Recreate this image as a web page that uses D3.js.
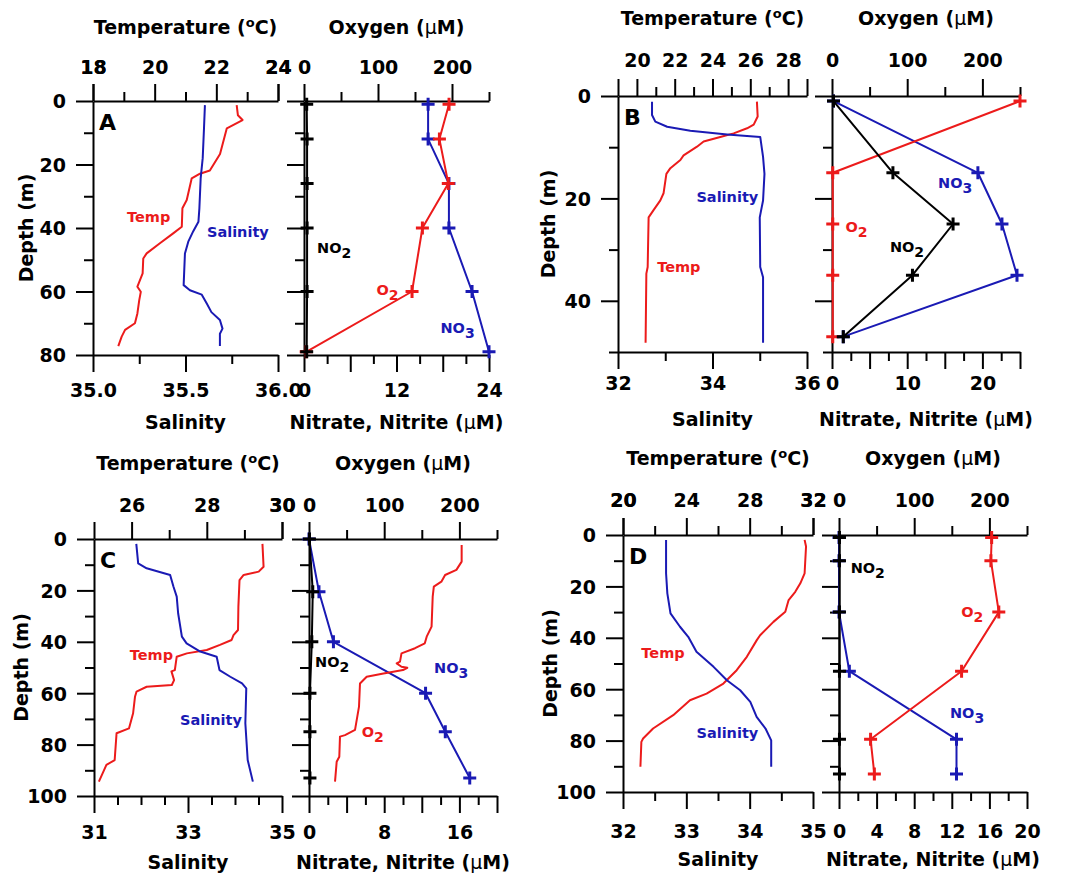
<!DOCTYPE html>
<html><head><meta charset="utf-8">
<script src="https://cdn.jsdelivr.net/npm/d3@7"></script>
<style>body{margin:0;background:#fff}</style>
</head><body>
<svg id="c" width="1065" height="878"></svg>
<script>
// ---------------- DATA ----------------
// Panel A
const aTempDepth = [1.3,4.5,6,8.6,16.7,21.9,22.9,24.4,31.2,33.8,39.6,41.7,44.8,48,49.6,54.3,58.5,60.1,62.7,66.9,70,72.1,74.2,77.2];
const aTemp      = [22.66,22.7,22.85,22.34,22.12,21.79,21.47,21.2,21.04,20.9,20.88,20.6,20.17,19.74,19.63,19.61,19.44,19.55,19.5,19.44,19.36,19.04,18.93,18.82];
const aSalDepth  = [1.3,8.6,18,24.4,33.8,38,41,44.3,48,58,59.6,61,63.8,66.5,69,71.7,73.3,77.2];
const aSal       = [35.605,35.6,35.593,35.582,35.575,35.57,35.542,35.515,35.497,35.49,35.524,35.588,35.615,35.64,35.686,35.7,35.686,35.686];
const aBottleDepth = [1,12,26,40,60,79];
const aO2  = [196,183,195,160,146,3];
const aNO3 = [16.1,16.1,18.8,18.8,21.8,24.0];
const aNO2 = [0.35,0.4,0.4,0.4,0.4,0.35];
// Panel B
const bTempDepth = [1.1,4.0,5.6,6.3,7.3,8,8.9,9.9,11.6,12.5,14.1,15.2,19,20.4,22.3,23.7,33.4,34.7,48.2];
const bTemp      = [26.35,26.39,26.18,25.83,25.12,24.41,23.53,23.18,22.47,22.3,21.77,21.56,21.41,21.24,20.88,20.62,20.57,20.5,20.46];
const bSalDepth  = [1.1,3.7,5,6,6.8,7.5,8,11.9,15.2,20.4,23.7,33.4,35.4,48.2];
const bSal       = [32.72,32.72,32.79,33.04,33.53,34.31,35.01,35.07,35.1,35.07,35.0,35.01,35.07,35.07];
const bBottleDepth = [1,15,25,35,47];
const bO2  = [250,1,1,1,1];
const bNO3 = [0.2,19.4,22.6,24.6,1.5];
const bNO2 = [0.2,8.1,16.1,10.7,1.5];
// Panel C
const cTempDepth = [1.9,10.8,12.7,14,16,26.3,35.4,37.4,39.3,41.2,43.2,44.5,45.8,51,51.5,54.9,56.8,57.5,59.4,61.4,67.8,73.7,75.6,86,87.9,94.4];
const cTemp      = [29.48,29.51,29.38,28.98,28.87,28.84,28.83,28.71,28.66,28.35,28.0,27.47,27.2,27.15,27.06,27.13,27.07,26.4,26.13,26.09,26.04,25.93,25.6,25.55,25.33,25.13];
const cSalDepth  = [1.9,9.5,11.4,14,18.5,22.4,28.9,38,40.6,43.8,45.8,51,53.6,56.2,58.1,71.7,86,94.4];
const cSal       = [31.9,31.94,32.12,32.62,32.69,32.76,32.79,32.87,32.97,33.26,33.61,33.67,33.9,34.15,34.24,34.22,34.27,34.38];
const cO2Depth   = [2.3,8.8,12,14,16.6,18.5,22.4,34.1,38,40.6,42.5,44.5,47.7,48.4,49.7,50.1,51,52.3,53.6,56.2,65.2,74.3,76.3,76.9,84.7,86.7,94.4];
const cO2        = [203,203,196,181,176,166,164.5,163,156.5,154,141,123,121,116.6,123,130.7,125,99,76.7,67.8,66.5,61.2,47.9,41.2,40.3,36.8,34.6];
const cBottleDepth = [0,20.5,40,60,75,93];
const cNO3 = [0,1.06,2.6,12.4,14.5,17.1];
const cNO2 = [0.05,0.4,0.3,0.1,0.1,0.1];
// Panel D
const dTempDepth = [1.9,4.5,14.9,18.8,22.1,25.3,29.9,33.8,39,40.9,47.4,52.6,57.8,61.7,64.3,70.1,75.3,79.2,80.5,90.2];
const dTemp      = [31.47,31.56,31.47,31.2,30.88,30.46,30.25,29.5,28.66,28.45,27.82,27.18,26.34,25.28,24.23,23.17,21.9,21.27,21.16,21.1];
const dSalDepth  = [1.9,14.9,22.7,30.5,35.7,39.6,45.4,51.3,56.5,60.4,64.9,70.8,75.3,79.9,90.2];
const dSal       = [32.68,32.68,32.7,32.75,32.9,33.03,33.16,33.43,33.64,33.85,34.01,34.11,34.25,34.34,34.34];
const dBottleDepth = [1,10,30,53,79.5,93];
const dO2  = [203,202,212.5,163,42,47];
const dNO3 = [0,0,0,1.1,12.5,12.5];
const dNO2 = [0.05,0.05,0.05,0.05,0.05,0.05];

// Tick values
const aDepthTicks = [0,10,20,30,40,50,60,70,80], aDepthLabels=[0,20,40,60,80];
const bDepthTicks = [0,10,20,30,40,50], bDepthLabels=[0,20,40];
const cdDepthTicks = [0,10,20,30,40,50,60,70,80,90,100], cdDepthLabels=[0,20,40,60,80,100];
const oxyTicks = [0,50,100,150,200,250], oxyLabels=[0,100,200];

// Annotation labels (data coordinates: x on salinity / nitrate axis, y = depth)
const aLabels = [["Temp","sal",35.184,36.5,"red"],["Salinity","sal",35.616,41.3,"blue"],
                 ["NO|2","nit",1.7,46.3,"black"],["O|2","nit",9.4,59.5,"red"],["NO|3","nit",17.7,71.5,"blue"]];
const bLabels = [["Salinity","sal",33.66,19.75,"blue"],["Temp","sal",32.83,33.4,"red"],
                 ["NO|3","nit",14.1,17,"blue"],["O|2","nit",1.8,25.6,"red"],["NO|2","nit",7.7,29.5,"black"]];
const cLabels = [["Temp","sal",31.76,45.1,"red"],["Salinity","sal",32.83,70.4,"blue"],
                 ["NO|2","nit",0.64,47.7,"black"],["NO|3","nit",13.3,50.2,"blue"],["O|2","nit",5.6,75,"red"]];
const dLabels = [["Temp","sal",32.29,46,"red"],["Salinity","sal",33.16,77.1,"blue"],
                 ["NO|2","nit",1.24,12.9,"black"],["O|2","nit",13.0,29.9,"red"],["NO|3","nit",11.8,69.3,"blue"]];

// ---------------- STYLE / LAYOUT ----------------
const COL = {red:"#ec1b1b", blue:"#1a1ab4", black:"#000"};
const FONT = "DejaVu Sans";
const svg = d3.select("#c").style("font-family", FONT);

const panels = [
 {letter:"A", lx:[93,278], rx:[304,489], y:[101,355], depthMax:80, dTicks:aDepthTicks, dLabels:aDepthLabels,
  tDom:[18,24], tTicks:[18,19,20,21,22,23,24], tLab:[18,20,22,24], tFmt:d3.format("d"),
  sDom:[35,36], sTicks:[35,35.25,35.5,35.75,36], sLab:[35,35.5,36], sFmt:d3.format(".1f"),
  nDom:[0,24], nTicks:d3.range(0,25,3), nMajor:[0,6,12,18,24], nLab:[0,12,24],
  topLab:-34, topTitle:-74, botLab:35, botTitle:67, depthTitle:-67,
  tempD:aTempDepth, temp:aTemp, salD:aSalDepth, sal:aSal,
  bD:aBottleDepth, o2:aO2, no3:aNO3, no2:aNO2, o2D:null, o2c:null, labels:aLabels},
 {letter:"B", lx:[618,807], rx:[832,1020], y:[96,352], depthMax:50, dTicks:bDepthTicks, dLabels:bDepthLabels,
  tDom:[19,29], tTicks:d3.range(19,30,1), tLab:[20,22,24,26,28], tFmt:d3.format("d"),
  sDom:[32,36], sTicks:[32,33,34,35,36], sLab:[32,34,36], sFmt:d3.format("d"),
  nDom:[0,25], nTicks:d3.range(0,25.1,2.5), nMajor:[0,5,10,15,20,25], nLab:[0,10,20],
  topLab:-36, topTitle:-78, botLab:31, botTitle:67, depthTitle:-70,
  tempD:bTempDepth, temp:bTemp, salD:bSalDepth, sal:bSal,
  bD:bBottleDepth, o2:bO2, no3:bNO3, no2:bNO2, o2D:null, o2c:null, labels:bLabels},
 {letter:"C", lx:[94,282], rx:[309,497], y:[539,796], depthMax:100, dTicks:cdDepthTicks, dLabels:cdDepthLabels,
  tDom:[25,30], tTicks:[25,26,27,28,29,30], tLab:[26,28,30], tFmt:d3.format("d"),
  sDom:[31,35], sTicks:d3.range(31,35.1,0.5), sLab:[31,33,35], sFmt:d3.format("d"),
  nDom:[0,20], nTicks:d3.range(0,21,2), nMajor:[0,4,8,12,16,20], nLab:[0,8,16],
  topLab:-34, topTitle:-76, botLab:36, botTitle:66, depthTitle:-73,
  tempD:cTempDepth, temp:cTemp, salD:cSalDepth, sal:cSal,
  bD:cBottleDepth, o2:null, no3:cNO3, no2:cNO2, o2D:cO2Depth, o2c:cO2, labels:cLabels},
 {letter:"D", lx:[623,813], rx:[839,1027], y:[535,792], depthMax:100, dTicks:cdDepthTicks, dLabels:cdDepthLabels,
  tDom:[20,32], tTicks:d3.range(20,33,2), tLab:[20,24,28,32], tFmt:d3.format("d"),
  sDom:[32,35], sTicks:d3.range(32,35.1,0.5), sLab:[32,33,34,35], sFmt:d3.format("d"),
  nDom:[0,20], nTicks:d3.range(0,21,2), nMajor:[0,4,8,12,16,20], nLab:[0,4,8,12,16,20],
  topLab:-35, topTitle:-77, botLab:39, botTitle:67, depthTitle:-73,
  tempD:dTempDepth, temp:dTemp, salD:dSalDepth, sal:dSal,
  bD:dBottleDepth, o2:dO2, no3:dNO3, no2:dNO2, o2D:null, o2c:null, labels:dLabels},
];

const near = (arr, v) => arr.some(a => Math.abs(a - v) < 1e-9);

function hAxis(g, scale, yPos, top, ticks, majors, labels, fmt, labOff) {
  const mk = top ? d3.axisTop : d3.axisBottom;
  const minors = ticks.filter(t => !near(majors, t));
  const gm = g.append("g").attr("transform", `translate(0,${yPos})`)
    .call(mk(scale).tickValues(minors).tickSize(9).tickSizeOuter(0).tickFormat(""));
  gm.select(".domain").remove();
  const gM = g.append("g").attr("transform", `translate(0,${yPos})`)
    .call(mk(scale).tickValues(majors).tickSize(17).tickSizeOuter(0)
      .tickFormat(d => near(labels, d) ? fmt(d) : ""));
  g.selectAll("path, line").attr("stroke", "#000").attr("stroke-width", 2);
  gM.selectAll("text").attr("y", labOff).attr("dy", "0.36em")
    .attr("font-size", 19).attr("font-weight", "bold").attr("fill", "#000").attr("font-family", FONT);
}

function vAxis(g, scale, xPos, ticks, labels, showLabels) {
  const minors = ticks.filter(t => !near(labels, t));
  const gm = g.append("g").attr("transform", `translate(${xPos},0)`)
    .call(d3.axisLeft(scale).tickValues(minors).tickSize(9).tickSizeOuter(0).tickFormat(""));
  gm.select(".domain").remove();
  const gM = g.append("g").attr("transform", `translate(${xPos},0)`)
    .call(d3.axisLeft(scale).tickValues(labels).tickSize(17).tickSizeOuter(0)
      .tickFormat(d => showLabels ? d3.format("d")(d) : ""));
  g.selectAll("path, line").attr("stroke", "#000").attr("stroke-width", 2);
  gM.selectAll("text").attr("x", -27).attr("dy", "0.36em")
    .attr("font-size", 19).attr("font-weight", "bold").attr("fill", "#000").attr("font-family", FONT);
}

function richText(g, x, y, str, color, size, anchor) {
  const parts = str.split("|");
  const t = g.append("text").attr("x", x).attr("y", y).attr("dy", "0.36em")
    .attr("fill", color).attr("font-size", size).attr("font-weight", "bold")
    .attr("text-anchor", anchor || "start");
  t.append("tspan").text(parts[0]);
  if (parts.length > 1) t.append("tspan").attr("dy", size*0.35).attr("font-size", size*0.97).text(parts[1]);
  return t;
}

function title(g, x, y, kind) {
  const t = g.append("text").attr("x", x).attr("y", y).attr("dy", "0.36em")
    .attr("text-anchor", "middle").attr("font-size", 19).attr("font-weight", "bold").attr("fill", "#000");
  if (kind === "temp") {
    t.append("tspan").text("Temperature (");
    t.append("tspan").attr("dy", -7).attr("font-size", 13).text("o");
    t.append("tspan").attr("dy", 7).text("C)");
  } else if (kind === "oxy") {
    t.append("tspan").text("Oxygen (");
    t.append("tspan").attr("font-weight", "normal").text("\u03BC");
    t.append("tspan").text("M)");
  } else if (kind === "nit") {
    t.append("tspan").text("Nitrate, Nitrite (");
    t.append("tspan").attr("font-weight", "normal").text("\u03BC");
    t.append("tspan").text("M)");
  } else {
    t.text(kind);
  }
}

function cross(g, xs, ys, color) {
  g.selectAll(null).data(xs.map((v, i) => [v, ys[i]])).enter().append("path")
    .attr("d", d => `M${d[0]-6.5},${d[1]}H${d[0]+6.5}M${d[0]},${d[1]-6.5}V${d[1]+6.5}`)
    .attr("stroke", color).attr("stroke-width", 3).attr("fill", "none");
}

function line(g, xs, ys, color, w) {
  const pts = xs.map((v, i) => [v, ys[i]]);
  g.append("path").attr("d", d3.line()(pts)).attr("fill", "none")
    .attr("stroke", color).attr("stroke-width", w || 2).attr("stroke-linejoin", "round");
}

panels.forEach(p => {
  const g = svg.append("g");
  const y = d3.scaleLinear().domain([0, p.depthMax]).range(p.y);
  const xT = d3.scaleLinear().domain(p.tDom).range(p.lx);
  const xS = d3.scaleLinear().domain(p.sDom).range(p.lx);
  const xO = d3.scaleLinear().domain([0, 250]).range(p.rx);
  const xN = d3.scaleLinear().domain(p.nDom).range(p.rx);

  // ---- left sub-panel axes
  const gl = g.append("g");
  hAxis(gl, xT, p.y[0], true, p.tTicks, p.tLab.concat(p.tDom), p.tLab, p.tFmt, p.topLab);
  hAxis(gl, xS, p.y[1], false, p.sTicks, p.sLab, p.sLab, p.sFmt, p.botLab);
  vAxis(gl, y, p.lx[0], p.dTicks, p.dLabels, true);
  // ---- right sub-panel axes
  const gr = g.append("g");
  hAxis(gr, xO, p.y[0], true, oxyTicks, oxyLabels, oxyLabels, d3.format("d"), p.topLab);
  hAxis(gr, xN, p.y[1], false, p.nTicks, p.nMajor, p.nLab, d3.format("d"), p.botLab);
  vAxis(gr, y, p.rx[0], p.dTicks, p.dLabels, false);

  // titles
  const lc = (p.lx[0] + p.lx[1]) / 2, rc = (p.rx[0] + p.rx[1]) / 2;
  title(g, lc, p.y[0] + p.topTitle, "temp");
  title(g, rc, p.y[0] + p.topTitle, "oxy");
  title(g, lc, p.y[1] + p.botTitle, "Salinity");
  title(g, rc, p.y[1] + p.botTitle, "nit");
  g.append("text").attr("transform", `translate(${p.lx[0] + p.depthTitle},${(p.y[0]+p.y[1])/2}) rotate(-90)`)
    .attr("dy", "0.36em").attr("text-anchor", "middle").attr("font-size", 19)
    .attr("font-weight", "bold").text("Depth (m)");
  g.append("text").attr("x", p.lx[0] + 6).attr("y", p.y[0] + 21).attr("dy", "0.36em")
    .attr("font-size", 22).attr("font-weight", "bold").text(p.letter);

  // ---- left data: CTD profiles
  line(g, p.temp.map(xT), p.tempD.map(y), COL.red, 2);
  line(g, p.sal.map(xS), p.salD.map(y), COL.blue, 2);

  // ---- right data
  const bx = p.bD.map(y);
  line(g, p.no3.map(xN), bx, COL.blue, 2);
  cross(g, p.no3.map(xN), bx, COL.blue);
  if (p.o2) {
    line(g, p.o2.map(xO), bx, COL.red, 2);
    cross(g, p.o2.map(xO), bx, COL.red);
  } else {
    line(g, p.o2c.map(xO), p.o2D.map(y), COL.red, 2);
  }
  line(g, p.no2.map(xN), bx, COL.black, 2);
  cross(g, p.no2.map(xN), bx, COL.black);

  // annotations
  p.labels.forEach(l => {
    const xx = l[1] === "sal" ? xS(l[2]) : xN(l[2]);
    richText(g, xx, y(l[3]), l[0], COL[l[4]], 14.5, "start");
  });
});
</script>
</body></html>
